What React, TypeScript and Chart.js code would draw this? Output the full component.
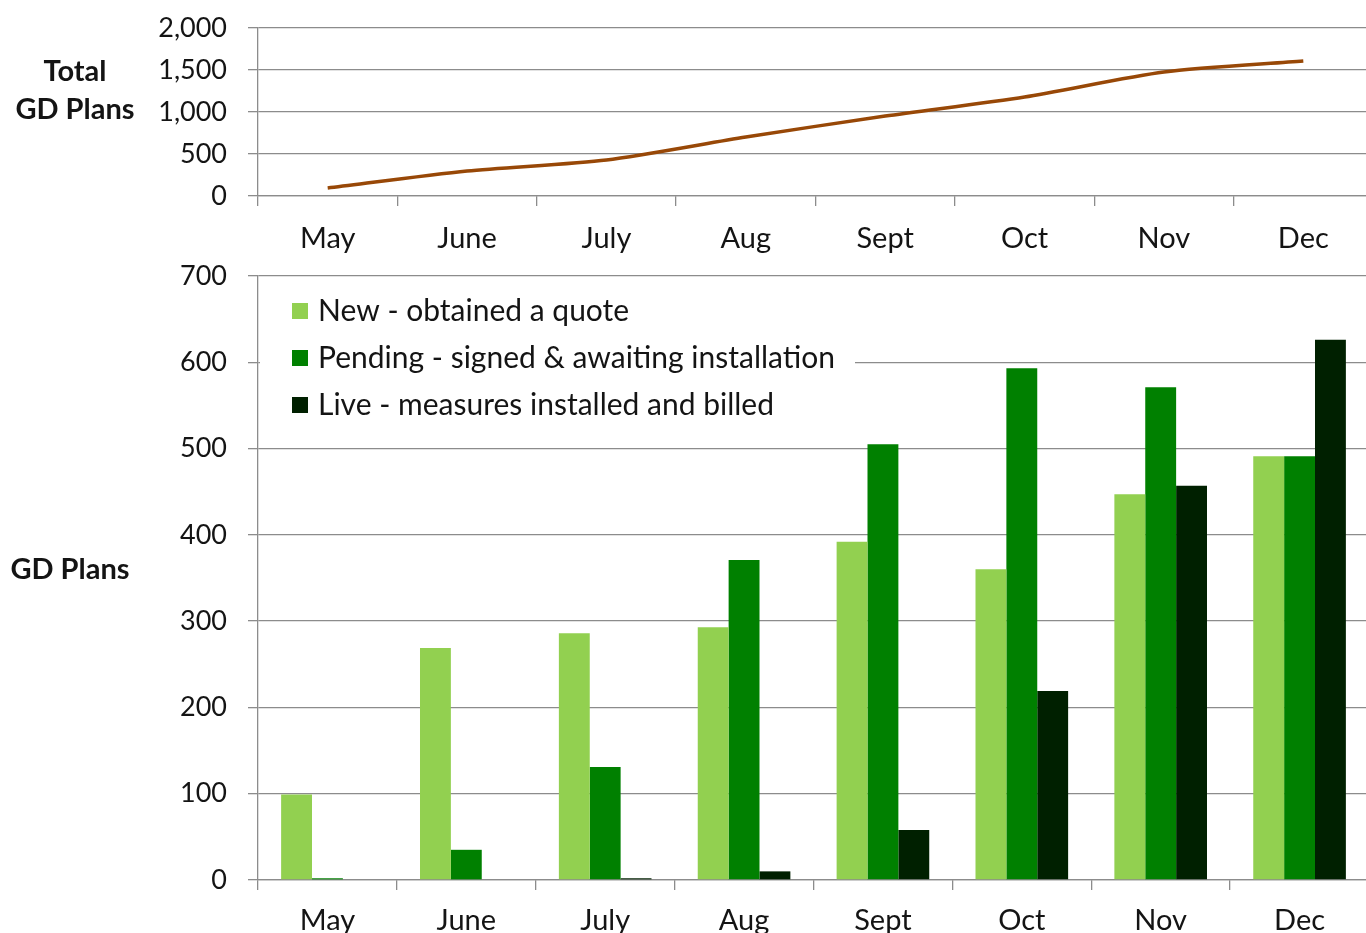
import React, { useEffect, useRef } from "react";
import { Chart, registerables } from "chart.js";
Chart.register(...registerables);

const months = ["May", "June", "July", "Aug", "Sept", "Oct", "Nov", "Dec"];
const totalPlans = [95, 298, 429, 702, 952, 1179, 1476, 1607];
const newQuote = [99, 269, 286, 293, 392, 360, 447, 491];
const pending = [2, 35, 131, 371, 505, 593, 571, 491];
const live = [0, 0, 2, 10, 58, 219, 457, 626];
const seriesLabels = [
  "New - obtained a quote",
  "Pending - signed & awaiting installation",
  "Live - measures installed and billed",
];
const topTitle = ["Total", "GD Plans"];
const bottomTitle = ["GD Plans"];

const FONT = "Lato, 'Open Sans', sans-serif";
const GRID = "#8c8c8c";
const TEXT = "#141414";
const W = 1380;
const TOP_H = 255;
const BOT_H = 678;

function sideTitle(lines: string[], x: number, ys: number[]) {
  return {
    id: "sideTitle",
    afterDraw(chart: any) {
      const ctx = chart.ctx;
      ctx.save();
      ctx.font = `bold 29px ${FONT}`;
      ctx.fillStyle = TEXT;
      ctx.textAlign = "center";
      ctx.textBaseline = "middle";
      lines.forEach((l, i) => ctx.fillText(l, x, ys[i]));
      ctx.restore();
    },
  };
}

const insideLegend = {
  id: "insideLegend",
  afterDraw(chart: any) {
    const { ctx, chartArea } = chart;
    ctx.save();
    ctx.fillStyle = "#ffffff";
    ctx.fillRect(chartArea.left + 2, chartArea.top + 9, 595, 140);
    ctx.font = `30px ${FONT}`;
    ctx.textBaseline = "middle";
    ctx.textAlign = "left";
    chart.data.datasets.forEach((ds: any, i: number) => {
      const y = chartArea.top + 35 + i * 47;
      ctx.fillStyle = ds.backgroundColor;
      ctx.fillRect(chartArea.left + 34, y - 8, 16, 16);
      ctx.fillStyle = TEXT;
      ctx.fillText(ds.label, chartArea.left + 60, y);
    });
    ctx.restore();
  },
};

function xScale(height: number, pad: number) {
  return {
    type: "category" as const,
    offset: true,
    grid: {
      offset: true,
      drawOnChartArea: false,
      drawTicks: true,
      tickLength: 10,
      color: GRID,
      lineWidth: 1.3,
    },
    border: { color: GRID, width: 1.3 },
    ticks: {
      color: TEXT,
      font: { family: FONT, size: 29 },
      padding: pad,
      maxRotation: 0,
      autoSkip: false,
    },
    afterFit: (s: any) => {
      s.height = height;
    },
  };
}

function yScale(max: number, step: number) {
  return {
    min: 0,
    max,
    grid: { color: GRID, lineWidth: 1.3, tickLength: 10, drawTicks: true },
    border: { color: GRID, width: 1.3 },
    ticks: {
      stepSize: step,
      color: TEXT,
      font: { family: FONT, size: 27 },
      padding: 21,
    },
    afterFit: (s: any) => {
      s.width = 258;
      s.paddingTop = 0;
      s.paddingBottom = 0;
    },
  };
}

export default function App() {
  const topRef = useRef<HTMLCanvasElement>(null);
  const botRef = useRef<HTMLCanvasElement>(null);

  useEffect(() => {
    const top = new Chart(topRef.current!, {
      type: "line",
      data: {
        labels: months,
        datasets: [
          {
            label: "Total GD Plans",
            data: totalPlans,
            borderColor: "#984807",
            borderWidth: 3.5,
            pointRadius: 0,
            tension: 0.25,
            fill: false,
          },
        ],
      },
      options: {
        responsive: false,
        animation: false,
        locale: "en-US",
        layout: { padding: { top: 28, right: 7, left: 0, bottom: 0 } },
        plugins: { legend: { display: false }, tooltip: { enabled: false } },
        scales: { x: xScale(TOP_H - 196, 15), y: yScale(2000, 500) },
      },
      plugins: [sideTitle(topTitle, 75, [72, 110])],
    });

    const bot = new Chart(botRef.current!, {
      type: "bar",
      data: {
        labels: months,
        datasets: [
          { label: seriesLabels[0], data: newQuote, backgroundColor: "#92d050" },
          { label: seriesLabels[1], data: pending, backgroundColor: "#008000" },
          { label: seriesLabels[2], data: live, backgroundColor: "#002000" },
        ],
      },
      options: {
        responsive: false,
        animation: false,
        locale: "en-US",
        datasets: { bar: { categoryPercentage: 0.667, barPercentage: 1 } },
        layout: { padding: { top: 21, right: 11, left: 0, bottom: 0 } },
        plugins: { legend: { display: false }, tooltip: { enabled: false } },
        scales: { x: xScale(BOT_H - 625, 13), y: yScale(700, 100) },
      },
      plugins: [insideLegend, sideTitle(bottomTitle, 70, [570 - 255])],
    });

    return () => {
      top.destroy();
      bot.destroy();
    };
  }, []);

  return (
    <div
      style={{
        position: "absolute",
        left: 0,
        top: 0,
        width: 1366,
        height: 933,
        overflow: "hidden",
        background: "#fff",
      }}
    >
      <canvas
        ref={topRef}
        width={W}
        height={TOP_H}
        style={{ position: "absolute", left: 0, top: 0 }}
      />
      <canvas
        ref={botRef}
        width={W}
        height={BOT_H}
        style={{ position: "absolute", left: 0, top: TOP_H }}
      />
    </div>
  );
}
